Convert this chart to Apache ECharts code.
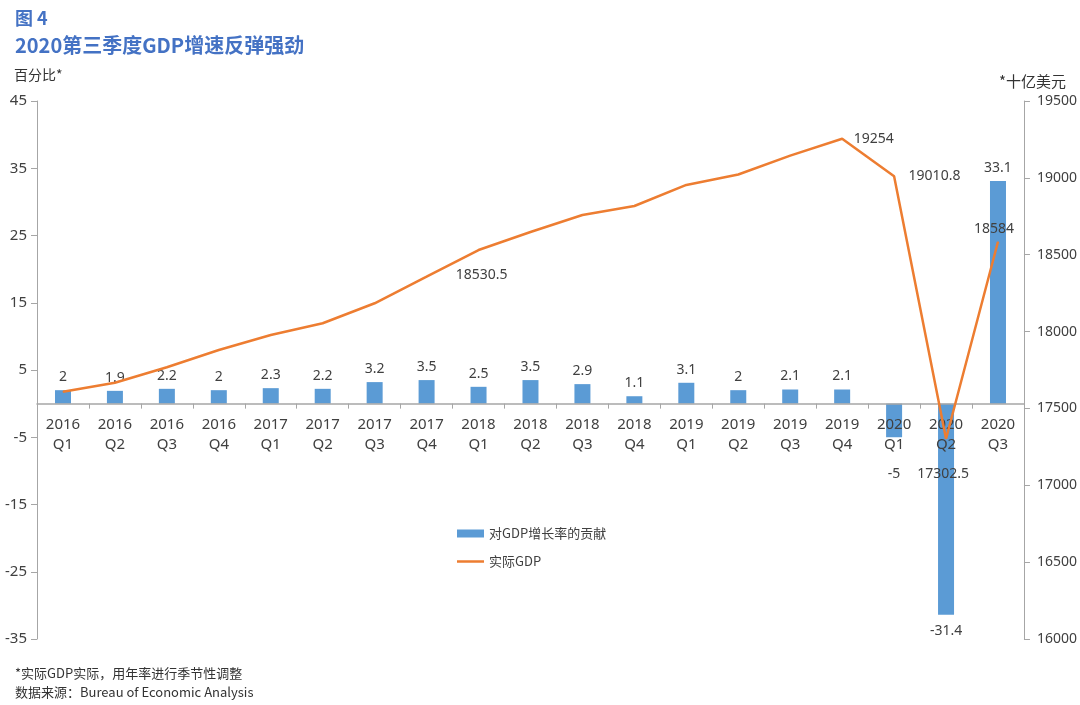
<!DOCTYPE html>
<html>
<head>
<meta charset="utf-8">
<script src="https://cdn.jsdelivr.net/npm/echarts@6/dist/echarts.min.js"></script>
<style>
html,body{margin:0;padding:0;background:#fff;}
#chart{width:1080px;height:705px;}
</style>
</head>
<body>
<div id="chart"></div>
<script>
const categories = ['2016\nQ1','2016\nQ2','2016\nQ3','2016\nQ4','2017\nQ1','2017\nQ2','2017\nQ3','2017\nQ4','2018\nQ1','2018\nQ2','2018\nQ3','2018\nQ4','2019\nQ1','2019\nQ2','2019\nQ3','2019\nQ4','2020\nQ1','2020\nQ2','2020\nQ3'];
const contribution = [2, 1.9, 2.2, 2, 2.3, 2.2, 3.2, 3.5, 2.5, 3.5, 2.9, 1.1, 3.1, 2, 2.1, 2.1, -5, -31.4, 33.1];
const realGDP = [17609, 17667, 17768, 17880, 17978, 18054, 18184, 18357, 18530.5, 18648, 18758, 18817, 18954, 19022, 19145, 19254, 19010.8, 17302.5, 18584];
const leftTicks = [-35, -25, -15, -5, 5, 15, 25, 35, 45];
const seriesNames = ['对GDP增长率的贡献', '实际GDP'];
const labeledGDP = [8, 15, 16, 17, 18];

const FONT = '"Noto Sans", "Noto Sans CJK SC", sans-serif';
const CJK = '"Noto Sans CJK SC", sans-serif';
const TXT = '#404040';
const AX = '#A6A6A6';

const GRID_TOP = 101, GRID_BOTTOM = 66, H = 705;
const LEFT_MIN = -35, LEFT_MAX = 45;
const plotH = H - GRID_TOP - GRID_BOTTOM;
const zeroOffset = -plotH * (0 - LEFT_MIN) / (LEFT_MAX - LEFT_MIN);

const lineLabelStyle = {
  8: {position: 'bottom', distance: 17, offset: [3, 0]},
  15: {position: 'right', distance: 11},
  16: {position: 'right', distance: 14},
  17: {position: 'bottom', distance: 28, offset: [-3, 0]},
  18: {position: 'top', distance: 5, offset: [-4, 0]}
};

const barData = contribution.map((v, i) => {
  const lab = v >= 0 ? {position: 'top', distance: 6} : {position: 'bottom', distance: (i === 16 ? 30 : 9)};
  return {value: v, label: lab};
});
const lineData = realGDP.map((v, i) => {
  if (labeledGDP.indexOf(i) >= 0) {
    return {value: v, label: Object.assign({show: true}, lineLabelStyle[i])};
  }
  return {value: v};
});

const chart = echarts.init(document.getElementById('chart'), null, {renderer: 'canvas'});
chart.setOption({
  animation: false,
  backgroundColor: '#fff',
  textStyle: {fontFamily: FONT},
  title: [
    {text: '图 4', left: 10, top: 4, textStyle: {fontFamily: CJK, fontSize: 18, fontWeight: 'bold', color: '#4472C4'}},
    {text: '2020第三季度GDP增速反弹强劲', left: 10, top: 30, textStyle: {fontFamily: CJK, fontSize: 20, fontWeight: 'bold', color: '#4472C4'}},
    {text: '*实际GDP实际，用年率进行季节性调整\n数据来源：Bureau of Economic Analysis', left: 10, top: 659,
     textStyle: {fontFamily: CJK, fontSize: 13, fontWeight: 'normal', color: '#333', lineHeight: 19}}
  ],
  legend: {
    orient: 'vertical', left: 452, top: 522, itemGap: 15, itemWidth: 27, itemHeight: 8,
    textStyle: {fontFamily: CJK, fontSize: 13, color: TXT},
    data: [
      {name: seriesNames[0], icon: 'rect'},
      {name: seriesNames[1], icon: 'path://M0,0 H27 V2.5 H0 Z'}
    ]
  },
  grid: {left: 37, right: 54, top: GRID_TOP, bottom: GRID_BOTTOM, containLabel: false},
  xAxis: {
    type: 'category', data: categories, boundaryGap: true, position: 'bottom',
    offset: zeroOffset, z: 4,
    axisLine: {onZero: false, lineStyle: {color: AX, width: 1.5}},
    axisTick: {show: true, alignWithLabel: false, length: 5, lineStyle: {color: AX}},
    axisLabel: {interval: 0, margin: 11, fontSize: 15, lineHeight: 20, color: TXT, fontFamily: FONT},
    splitLine: {show: false}
  },
  yAxis: [
    {
      type: 'value', min: LEFT_MIN, max: LEFT_MAX, position: 'left',
      name: '百分比*', nameLocation: 'end', nameGap: 19,
      nameTextStyle: {fontFamily: CJK, fontSize: 14, color: '#333', align: 'left', padding: [0, 0, 0, -23]},
      axisLine: {show: true, lineStyle: {color: AX}},
      axisTick: {show: true, length: 6, lineStyle: {color: AX}, customValues: leftTicks},
      axisLabel: {fontSize: 15, color: TXT, margin: 10, customValues: leftTicks},
      splitLine: {show: false}
    },
    {
      type: 'value', min: 16000, max: 19500, interval: 500, position: 'right',
      name: '*十亿美元', nameLocation: 'end', nameGap: 12,
      nameTextStyle: {fontFamily: CJK, fontSize: 15, color: '#333', align: 'right', padding: [0, -42, 0, 0]},
      axisLine: {show: true, lineStyle: {color: AX}},
      axisTick: {show: true, length: 6, lineStyle: {color: AX}},
      axisLabel: {fontSize: 14, color: TXT, margin: 13, formatter: v => String(v)},
      splitLine: {show: false}
    }
  ],
  series: [
    {
      name: seriesNames[0], type: 'bar', yAxisIndex: 0, data: barData, barWidth: 16, z: 2,
      itemStyle: {color: '#5B9BD5'},
      label: {show: true, fontSize: 14, color: TXT, fontFamily: FONT}
    },
    {
      name: seriesNames[1], type: 'line', yAxisIndex: 1, data: lineData,
      symbol: 'circle', symbolSize: 1, showSymbol: true, showAllSymbol: true, z: 6,
      lineStyle: {color: '#ED7D31', width: 2.5}, itemStyle: {color: '#ED7D31'},
      label: {show: false, fontSize: 14, color: TXT, fontFamily: FONT}
    }
  ]
});
</script>
</body>
</html>
